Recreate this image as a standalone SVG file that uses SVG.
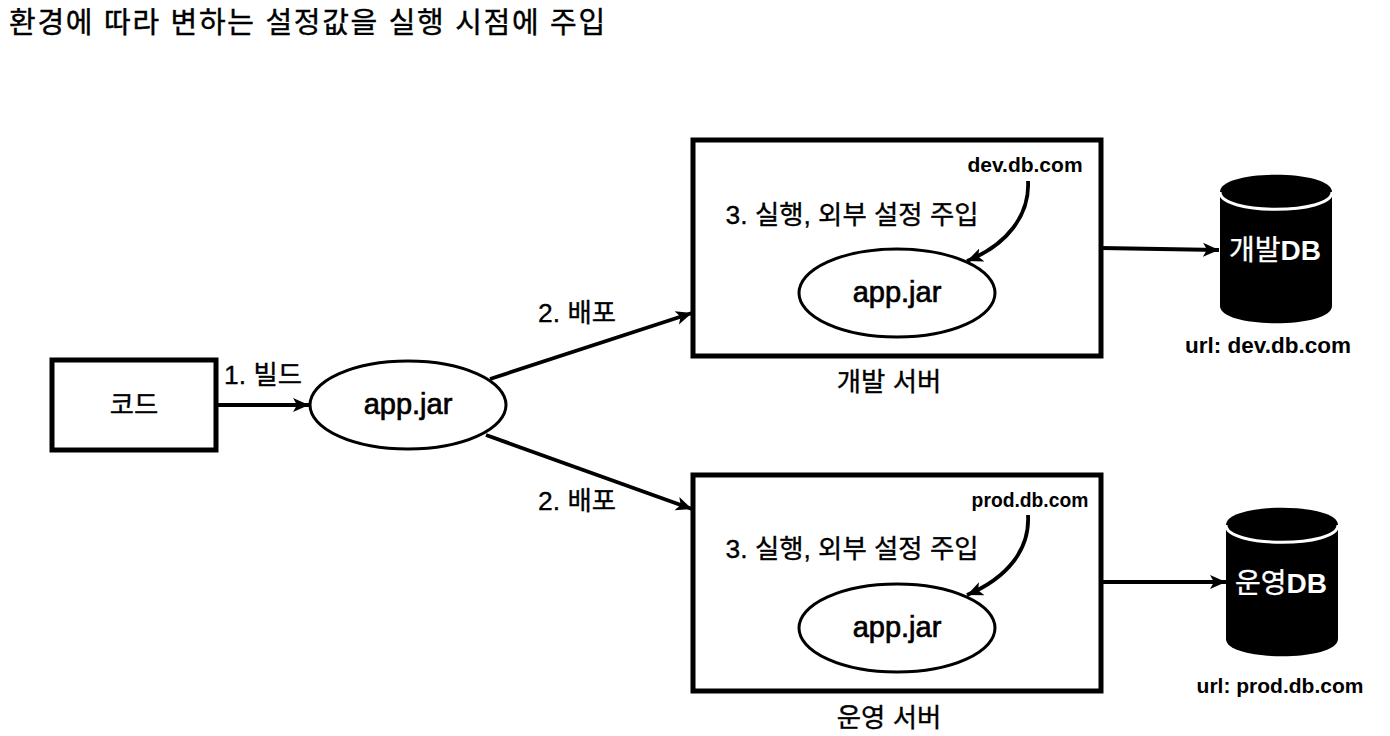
<svg xmlns="http://www.w3.org/2000/svg" width="1390" height="736" viewBox="0 0 1390 736">
<defs>
<marker id="a" markerUnits="userSpaceOnUse" markerWidth="17" markerHeight="16" refX="16" refY="8" orient="auto"><path d="M0 1L16 8L0 15L4 8Z" fill="#000"/></marker>
</defs>
<style>
text{font-family:"Liberation Sans","Noto Sans CJK KR",sans-serif;fill:#000;text-anchor:middle;font-size:26.4px;font-weight:400;stroke:#000;stroke-width:.35}
.b{fill:#fff;stroke:#000;stroke-width:5}
.e{fill:#fff;stroke:#000;stroke-width:3}
.c{fill:none;stroke:#000;stroke-width:3.8;marker-end:url(#a)}
.l{font-size:29px;stroke-width:.7}
.s{font-size:21px;font-weight:700;stroke-width:0}
.w{fill:#fff;stroke:#fff;font-size:28px}
.d{font-weight:700;stroke-width:0}
.h{fill:none;stroke:#fff;stroke-width:3}
</style>
<rect width="1390" height="736" fill="#fff"/>
<text x="308" y="33" style="font-size:29px;letter-spacing:1.7px;stroke-width:.4" id="title">환경에 따라 변하는 설정값을 실행 시점에 주입</text>
<g id="code"><rect class="b" x="52" y="360" width="164" height="90"/><text x="134" y="414">코드</text></g>
<g id="jar"><ellipse class="e" cx="408" cy="405" rx="98" ry="44"/><text x="408" y="414" class="l">app.jar</text></g>
<g id="dev"><rect class="b" x="693" y="140" width="408" height="216"/><ellipse class="e" cx="897" cy="293" rx="98" ry="44"/><text x="897" y="302" class="l">app.jar</text><text x="1025" y="172" class="s">dev.db.com</text><text x="852" y="224">3. 실행, 외부 설정 주입</text><text x="889" y="391">개발 서버</text></g>
<g id="prod"><rect class="b" x="693" y="475" width="408" height="216"/><ellipse class="e" cx="897" cy="628" rx="98" ry="44"/><text x="897" y="637" class="l">app.jar</text><text x="1030" y="507" class="s" style="font-size:19.3px">prod.db.com</text><text x="852" y="558">3. 실행, 외부 설정 주입</text><text x="889" y="727">운영 서버</text></g>
<g id="devdb"><path d="M1220 192C1220 169 1332 169 1332 192V306C1332 329 1220 329 1220 306Z" fill="#000"/><path class="h" d="M1220 192C1220 215 1332 215 1332 192"/><text x="1275" y="260" class="w">개발<tspan class="d">DB</tspan></text><text x="1268" y="353" class="s" style="font-size:22.5px">url: dev.db.com</text></g>
<g id="proddb"><path d="M1226 525C1226 502 1338 502 1338 525V639C1338 662 1226 662 1226 639Z" fill="#000"/><path class="h" d="M1226 525C1226 548 1338 548 1338 525"/><text x="1281" y="593" class="w">운영<tspan class="d">DB</tspan></text><text x="1280" y="693" class="s">url: prod.db.com</text></g>
<text x="263" y="384">1. 빌드</text>
<text x="577" y="322">2. 배포</text>
<text x="577" y="510">2. 배포</text>
<g id="connectors">
<path class="c" d="M217 405H309"/>
<path class="c" d="M490 379L692 313"/>
<path class="c" d="M486 435L692 509"/>
<path class="c" d="M1101 248L1219 250"/>
<path class="c" d="M1101 582L1226 582"/>
<path class="c" d="M1028 181C1030 215 1007 245 967 261"/>
<path class="c" d="M1028 515C1030 550 1007 578 967 595"/>
</g>
</svg>
